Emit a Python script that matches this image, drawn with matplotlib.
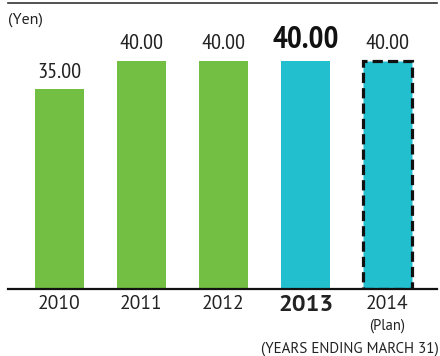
import matplotlib
matplotlib.use("Agg")
import matplotlib.pyplot as plt

years = ["2010", "2011", "2012", "2013", "2014"]
dividends = [35.00, 40.00, 40.00, 40.00, 40.00]
value_labels = ["35.00", "40.00", "40.00", "40.00", "40.00"]

GREEN = "#72bf44"
CYAN = "#22bfcf"
colors = [GREEN, GREEN, GREEN, CYAN, CYAN]
CURRENT = 3
PLAN = 4

NARROW = ["PT Sans Narrow", "Asap Condensed", "DejaVu Sans"]
SANS = ["PT Sans", "Open Sans", "DejaVu Sans"]

fig = plt.figure(figsize=(4.4, 3.56), dpi=100)
ax = fig.add_axes([8 / 440, 67 / 356, 429 / 440, 286.5 / 356])

x = list(range(len(years)))
bars = ax.bar(x, dividends, width=0.6, color=colors, zorder=2)

# planned year gets a dashed outline
plan_bar = bars[PLAN]
plan_bar.set_edgecolor("#111111")
plan_bar.set_linewidth(2.3)
plan_bar.set_linestyle((0, (3.2, 1.6)))

ax.set_xlim(-0.628, 4.604)
ax.set_ylim(0, 50.26)

for i, (v, lab) in enumerate(zip(dividends, value_labels)):
    if i == CURRENT:
        ax.annotate(lab, (i, v), xytext=(0, 5), textcoords="offset points",
                    ha="center", va="bottom", fontsize=22.5, fontweight="bold",
                    family=NARROW, color="#111111")
    else:
        ax.annotate(lab, (i, v), xytext=(0, 5.5), textcoords="offset points",
                    ha="center", va="bottom", fontsize=16,
                    family=NARROW, color="#222222")

for i, yr in enumerate(years):
    weight = "bold" if i == CURRENT else "normal"
    size = 17.5 if i == CURRENT else 14
    ax.annotate(yr, (i, 0), xytext=(0, -4.5), textcoords="offset points",
                ha="center", va="top", fontsize=size, fontweight=weight,
                family=SANS, color="#222222")

ax.annotate("(Plan)", (PLAN, 0), xytext=(0, -21.5), textcoords="offset points",
            ha="center", va="top", fontsize=10.5, family=SANS, color="#222222")

fig.text(8 / 440, 1 - 20 / 356, "(Yen)", ha="left", va="center",
         fontsize=11.5, family=SANS, color="#222222")
fig.text(439 / 440, 1 - 349 / 356, "(YEARS ENDING MARCH 31)", ha="right",
         va="center", fontsize=10.8, family=SANS, color="#222222")

for side in ["left", "right"]:
    ax.spines[side].set_visible(False)
ax.spines["bottom"].set_linewidth(1.6)
ax.spines["bottom"].set_color("#111111")
ax.spines["top"].set_linewidth(1.2)
ax.spines["top"].set_color("#333333")
ax.set_xticks([])
ax.set_yticks([])

fig.savefig("out.png", dpi=100)
